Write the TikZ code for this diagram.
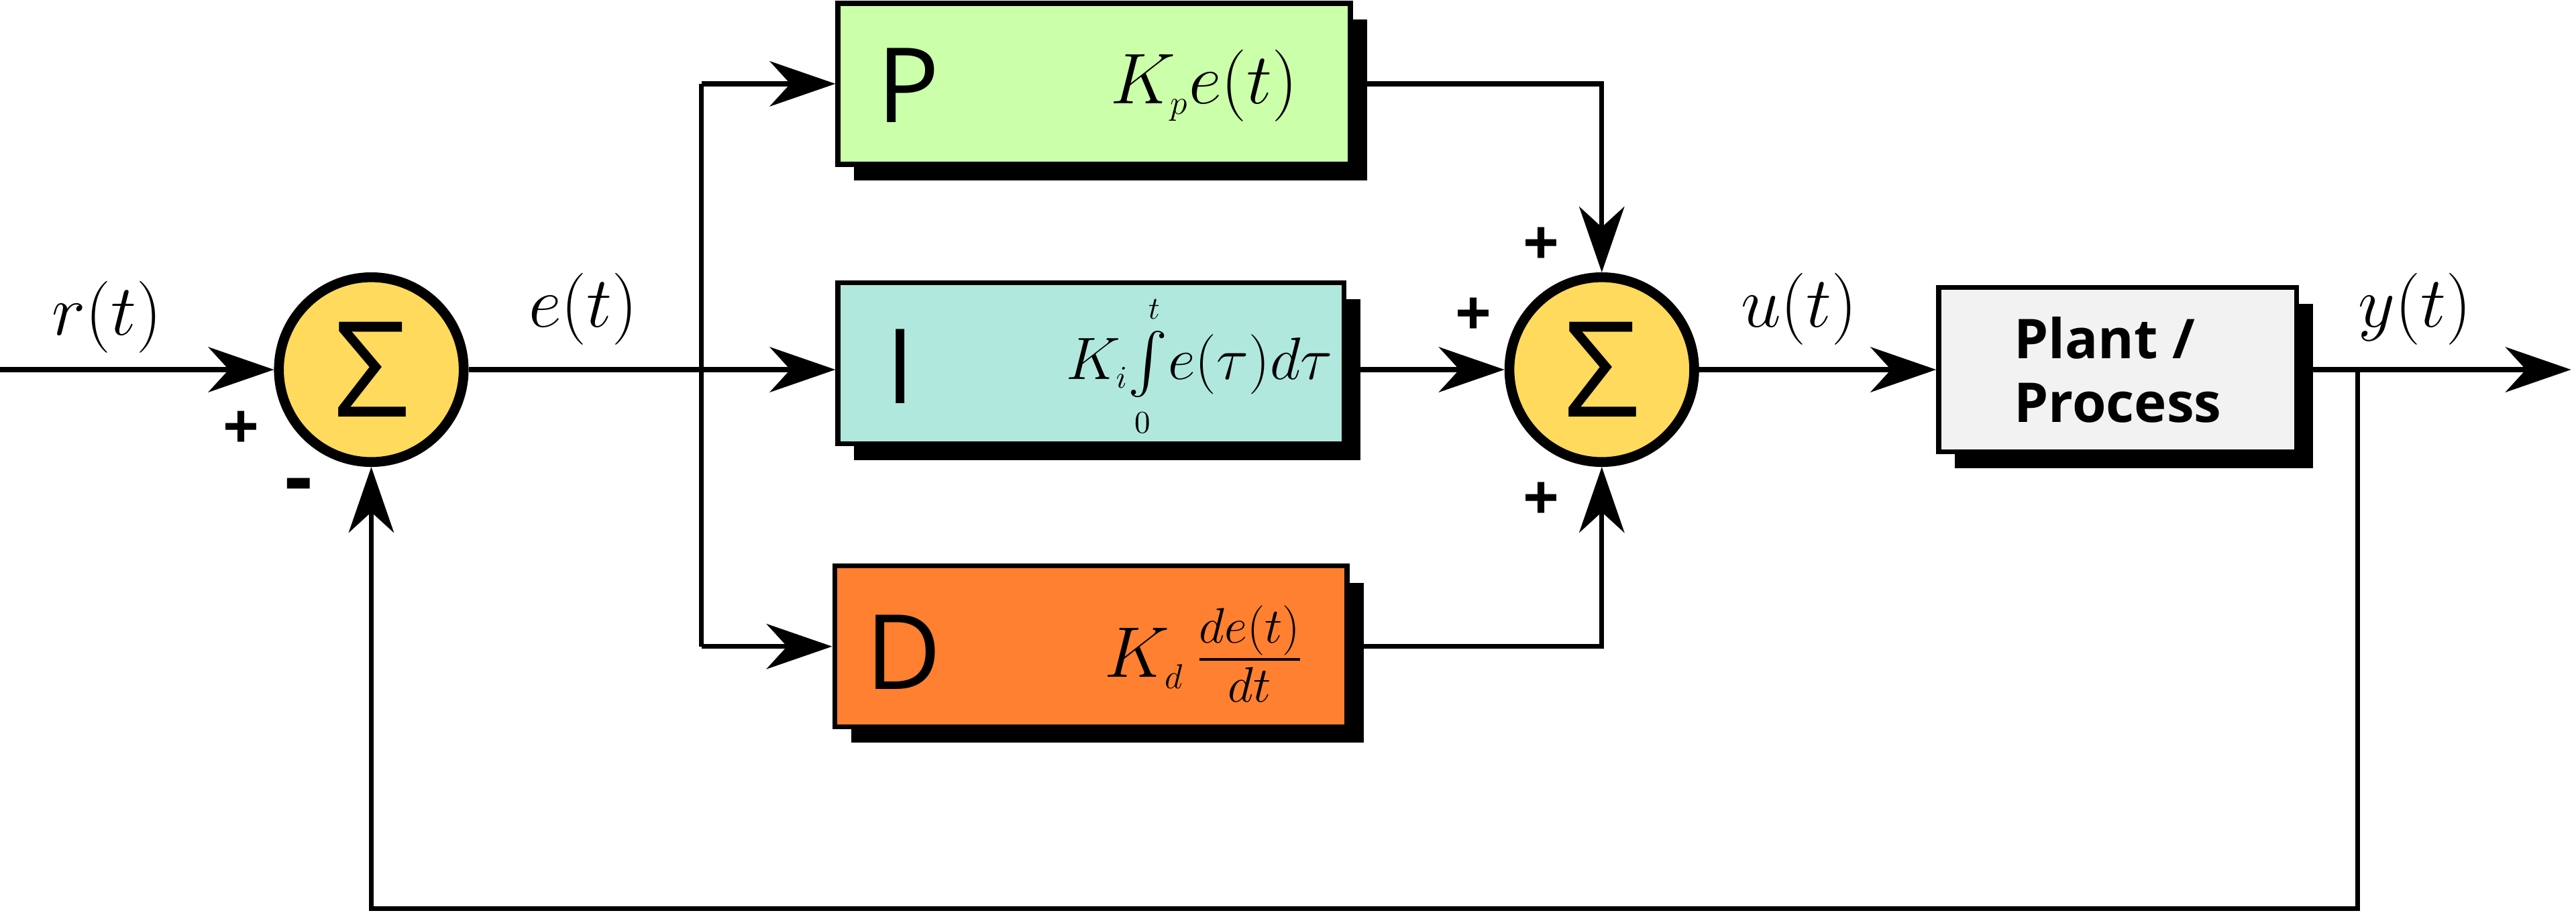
\documentclass[tikz,border=0pt]{standalone}
\usepackage{fontspec}
\setmainfont{Open Sans}
\usepackage{amsmath}
\usetikzlibrary{arrows.meta}
\definecolor{sumY}{HTML}{FFDA5C}
\definecolor{pG}{HTML}{CCFFAA}
\definecolor{iC}{HTML}{B0E8DD}
\definecolor{dO}{HTML}{FF8030}
\definecolor{plG}{HTML}{F2F2F2}
\begin{document}
\begin{tikzpicture}[x=0.02cm,y=-0.02cm,
  line width=1.7pt,
  >={Stealth[length=0.8cm,width=0.55cm,inset=0.25cm]},
  sum/.style={circle,draw,line width=3.4pt,fill=sumY,minimum size=2.25cm,inner sep=0pt,font=\fontsize{46}{46}\selectfont},
  blk/.style={draw,line width=1.7pt,minimum height=1.96cm,inner sep=0pt},
  lbl/.style={font=\fontsize{26}{26}\selectfont},
  frm/.style={font=\fontsize{22}{22}\selectfont},
  sgn/.style={font=\fontsize{22}{22}\selectfont\bfseries},
  big/.style={font=\fontsize{36}{36}\selectfont}]
\useasboundingbox (0,0) rectangle (1568,558);
% shadows
\fill (520,12) rectangle (832,110);
\fill (520,182) rectangle (828,280);
\fill (518,355) rectangle (830,452);
\fill (1190,185) rectangle (1408,285);
% blocks
\node[blk,fill=pG,minimum width=6.24cm] (P) at (666,51) {};
\node[blk,fill=iC,minimum width=6.16cm] (I) at (664,221) {};
\node[blk,fill=dO,minimum width=6.24cm] (D) at (664,393.5) {};
\node[blk,fill=plG,minimum width=4.36cm,minimum height=2cm,align=left,font=\fontsize{19}{22}\selectfont\bfseries] (G) at (1289,225) {Plant /\\Process};
\node[big] at (553,52) {P};
\node[big] at (548,223) {I};
\node[big] at (550,397) {D};
\node[lbl] at (733,52) {$K_{\scriptscriptstyle p}e(t)$};
\node[frm] at (730,223) {$K_{\scriptscriptstyle i}\!\int\limits_{\scriptscriptstyle 0}^{\scriptscriptstyle t}\!e(\tau)d\tau$};
\node[lbl] at (733,398) {$K_{\scriptscriptstyle d}\,\frac{de(t)}{dt}$};
% sums
\node[sum] (S1) at (226,225) {Σ};
\node[sum] (S2) at (975,225) {Σ};
% coordinates
\coordinate (in) at (0,225);
\coordinate (br) at (427,225);
\coordinate (out) at (1565,225);
\coordinate (fb) at (1435,225);
% connectors
\draw[->] (in) -- (S1);
\draw[->] (S1) -- (S1 -| I.west);
\draw (br |- P) -- (br |- D);
\draw[->] (br |- P) -- (P);
\draw[->] (br |- D) -- (D);
\draw[->] (P) -| (S2);
\draw[->] (I.east |- S2) -- (S2);
\draw[->] (D) -| (S2);
\draw[->] (S2) -- (G);
\draw[->] (G) -- (out);
\draw[->] (fb) |- (226,553) -- (S1);
% labels
\node[lbl] at (65,193) {$r(t)$};
\node[lbl] at (355,188) {$e(t)$};
\node[lbl] at (1095,188) {$u(t)$};
\node[lbl] at (1470,188) {$y(t)$};
\node[sgn] at (147,262) {+};
\node[sgn,font=\fontsize{30}{30}\selectfont\bfseries] at (182,300) {-};
\node[sgn] at (938,150) {+};
\node[sgn] at (897,193) {+};
\node[sgn] at (938,305) {+};
\end{tikzpicture}
\end{document}
